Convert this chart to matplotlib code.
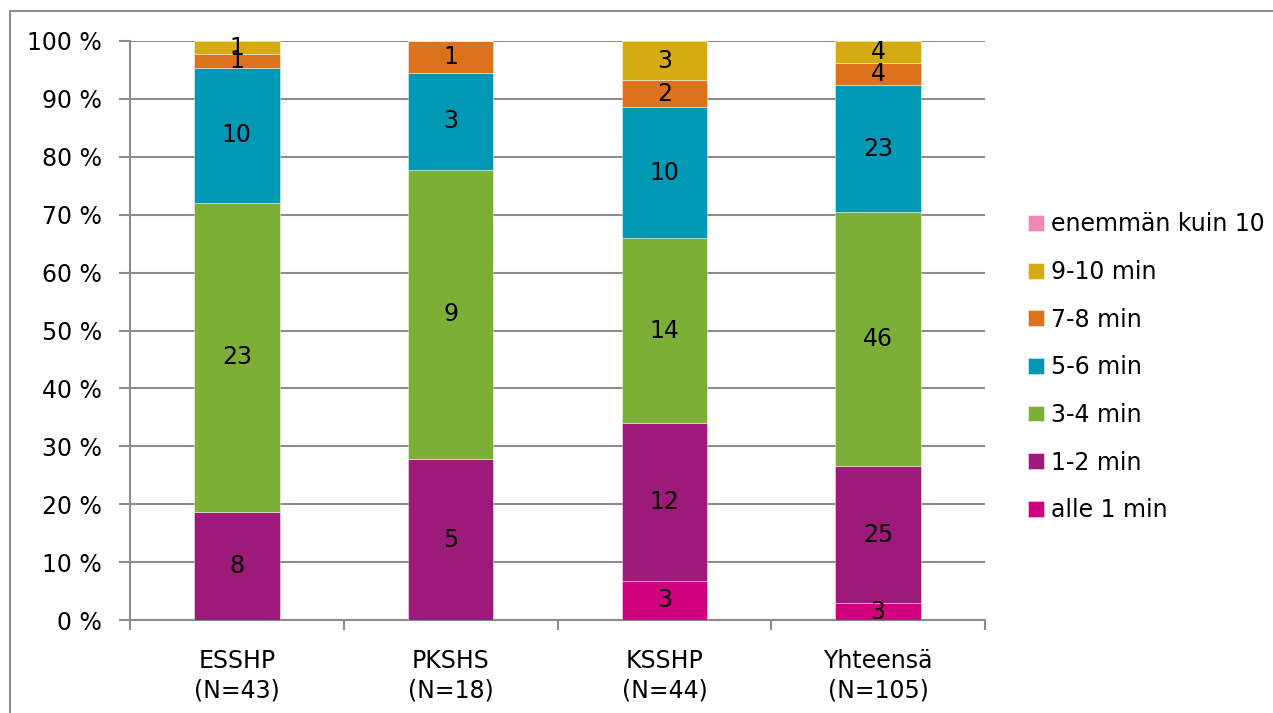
import matplotlib
matplotlib.use("Agg")
import matplotlib.pyplot as plt
import numpy as np
from matplotlib.patches import Rectangle

categories = ["ESSHP\n(N=43)", "PKSHS\n(N=18)", "KSSHP\n(N=44)", "Yhteensä\n(N=105)"]
series_names = ["alle 1 min", "1-2 min", "3-4 min", "5-6 min", "7-8 min", "9-10 min",
                "enemmän kuin 10 min"]
alle1 = [0, 0, 3, 3]
min1_2 = [8, 5, 12, 25]
min3_4 = [23, 9, 14, 46]
min5_6 = [10, 3, 10, 23]
min7_8 = [1, 1, 2, 4]
min9_10 = [1, 0, 3, 4]
over10 = [0, 0, 0, 0]
yticklabels = ["0 %", "10 %", "20 %", "30 %", "40 %", "50 %", "60 %", "70 %", "80 %", "90 %", "100 %"]

colors = ["#D1007E", "#9E1A7A", "#7DAF37", "#0099B5", "#DC721C", "#D4AC12", "#F087B6"]

series = [alle1, min1_2, min3_4, min5_6, min7_8, min9_10, over10]
counts = np.array(series, dtype=float)
totals = counts.sum(axis=0)
pcts = counts / totals * 100

plt.rcParams['font.family'] = ['DejaVu Sans']
FS = 17

fig = plt.figure(figsize=(12.73, 7.13), dpi=100)
W, H = 1273, 713
ax = fig.add_axes([130 / W, 1 - 620 / H, (985 - 130) / W, (620 - 41) / H])

# outer frame
fig.patches.append(Rectangle((10 / W, -0.1), 1.2, 1 - 11 / H + 0.1, transform=fig.transFigure,
                             fill=False, edgecolor="#8c8c8c", lw=1.5, zorder=0))

x = np.arange(len(categories))
bottom = np.zeros(len(categories))
handles = []
for name, p, c, col in zip(series_names, pcts, counts, colors):
    bars = ax.bar(x, p, 0.4, bottom=bottom, color=col, edgecolor=(1, 1, 1, 0.5), linewidth=0.6,
                  label=name, zorder=3)
    handles.append(bars)
    for xi, pi, ci, bi in zip(x, p, c, bottom):
        if ci > 0:
            ax.text(xi, bi + pi / 2, f"{int(ci)}", ha="center", va="center", fontsize=FS,
                    color="black", zorder=4)
    bottom += p

ax.set_xlim(-0.5, 3.5)
ax.set_ylim(0, 100)
ax.set_yticks(np.arange(0, 101, 10))
ax.set_yticklabels(yticklabels, fontsize=FS)
ax.yaxis.grid(True, color="#8c8c8c", lw=1.5, zorder=0)
ax.set_axisbelow(True)
ax.set_xticks(x)
ax.set_xticklabels(categories, fontsize=FS, linespacing=1.3)
ax.set_xticks(np.arange(-0.5, 4, 1), minor=True)
ax.tick_params(axis="x", which="major", length=0, pad=21)
ax.tick_params(axis="x", which="minor", length=7, width=1.5, color="#8c8c8c")
ax.tick_params(axis="y", length=8, width=1.5, color="#8c8c8c", pad=12)
for s in ["top", "right"]:
    ax.spines[s].set_visible(False)
for s in ["left", "bottom"]:
    ax.spines[s].set_color("#8c8c8c")
    ax.spines[s].set_linewidth(1.5)

leg = fig.legend(handles[::-1], series_names[::-1], loc="upper left",
                 bbox_to_anchor=(1019 / W, 1 - 203 / H), frameon=False, fontsize=FS,
                 handlelength=0.65, handleheight=0.65, handletextpad=0.3, labelspacing=1.0,
                 borderaxespad=0)

fig.savefig("out.png", dpi=100)
